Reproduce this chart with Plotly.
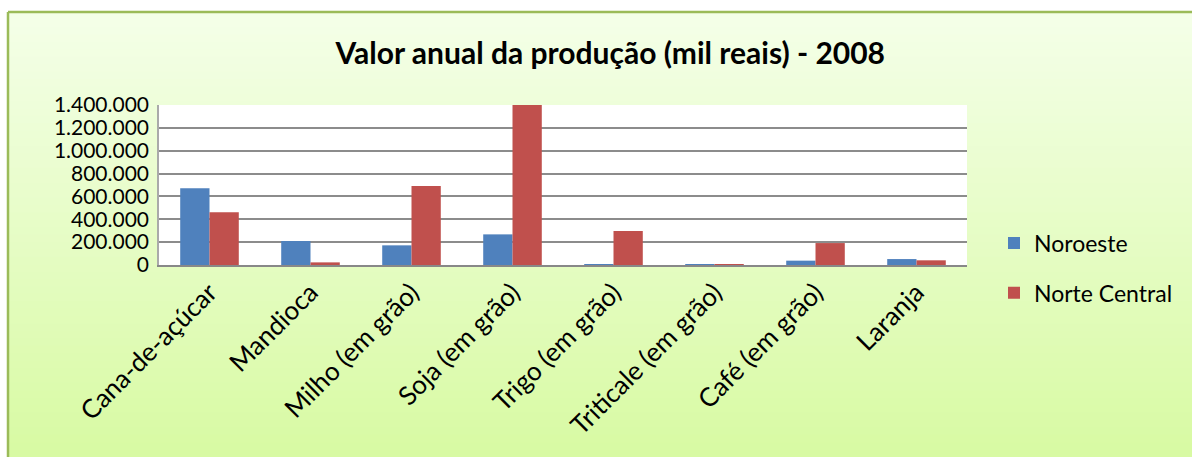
import plotly.graph_objects as go

# data
categories = ["Cana-de-açúcar", "Mandioca", "Milho (em grão)", "Soja (em grão)",
              "Trigo (em grão)", "Triticale (em grão)", "Café (em grão)", "Laranja"]
noroeste = [671000, 210000, 172000, 268000, 1500, 300, 38000, 52000]
norte_central = [461000, 23000, 691000, 1400000, 297000, 1500, 192000, 41000]

W, H = 1192, 457
L, R, T, B = 159, 225, 105, 192
PW, PH = W - L - R, H - T - B
FONT = "Lato"


def px_x(px):
    # pixel column -> paper x
    return (px - L) / PW


def px_y(py):
    # pixel row (from top) -> paper y
    return (H - B - py) / PH


fig = go.Figure()
fig.add_trace(go.Bar(name="Noroeste", x=categories, y=noroeste,
                     marker=dict(color="#4f81bd", line=dict(width=0)),
                     legendgroup="a"))
fig.add_trace(go.Bar(name="Norte Central", x=categories, y=norte_central,
                     marker=dict(color="#c0504d", line=dict(width=0)),
                     legendgroup="b"))

# light green vertical gradient behind the chart
shapes = []
n = 60
top_px, left_px = 12, 8
c_top = (244, 255, 232)
c_bot = (216, 250, 163)
step = (H - top_px) / n
for i in range(n):
    t = i / (n - 1)
    col = tuple(round(c_top[k] + (c_bot[k] - c_top[k]) * t) for k in range(3))
    y_a = top_px + i * step
    y_b = top_px + (i + 1) * step + 1
    shapes.append(dict(type="rect", xref="paper", yref="paper",
                       x0=px_x(left_px), x1=px_x(W), y0=px_y(y_b), y1=px_y(y_a),
                       fillcolor="rgb(%d,%d,%d)" % col, line=dict(width=0),
                       layer="below"))
# white plot area
shapes.append(dict(type="rect", xref="paper", yref="paper",
                   x0=0, x1=1, y0=0, y1=1, fillcolor="white",
                   line=dict(width=0), layer="below"))
# green frame (top and left)
shapes.append(dict(type="line", xref="paper", yref="paper",
                   x0=px_x(left_px), x1=px_x(W), y0=px_y(top_px), y1=px_y(top_px),
                   line=dict(color="#9bbb59", width=2.5)))
shapes.append(dict(type="line", xref="paper", yref="paper",
                   x0=px_x(left_px), x1=px_x(left_px), y0=px_y(H), y1=px_y(top_px),
                   line=dict(color="#9bbb59", width=2.5)))

fig.update_layout(
    width=W, height=H,
    margin=dict(l=L, r=R, t=T, b=B, autoexpand=False),
    paper_bgcolor="white",
    plot_bgcolor="rgba(0,0,0,0)",
    separators=",.",
    font=dict(family=FONT, size=22, color="black"),
    title=dict(text="<b>Valor anual da produção (mil reais) - 2008</b>",
               x=0.512, xanchor="center", y=1 - 53 / H, yanchor="middle",
               font=dict(family=FONT, size=30, color="black")),
    barmode="group",
    bargap=0.42,
    bargroupgap=0,
    showlegend=True,
    legend=dict(x=px_x(994), xanchor="left", y=px_y(268), yanchor="middle",
                bgcolor="rgba(0,0,0,0)", tracegroupgap=17,
                font=dict(family=FONT, size=23)),
    shapes=shapes,
)
fig.update_xaxes(tickangle=-45, showgrid=False, showline=True,
                 linecolor="#888888", linewidth=2, ticks="", automargin=False,
                 tickfont=dict(family=FONT, size=26))
fig.update_yaxes(range=[0, 1400000], dtick=200000, tickformat=",d",
                 showgrid=True, gridcolor="#8c8c8c", gridwidth=1.5,
                 showline=True, linecolor="#aaaaaa", linewidth=1.5,
                 zeroline=False, ticks="", ticklabelstandoff=4, automargin=False,
                 tickfont=dict(family=FONT, size=21))

# page has a default body margin; drop it so the chart fills the window
fig.write_html("out.html", config={"displayModeBar": False},
               post_script="document.body.style.margin='0';")
